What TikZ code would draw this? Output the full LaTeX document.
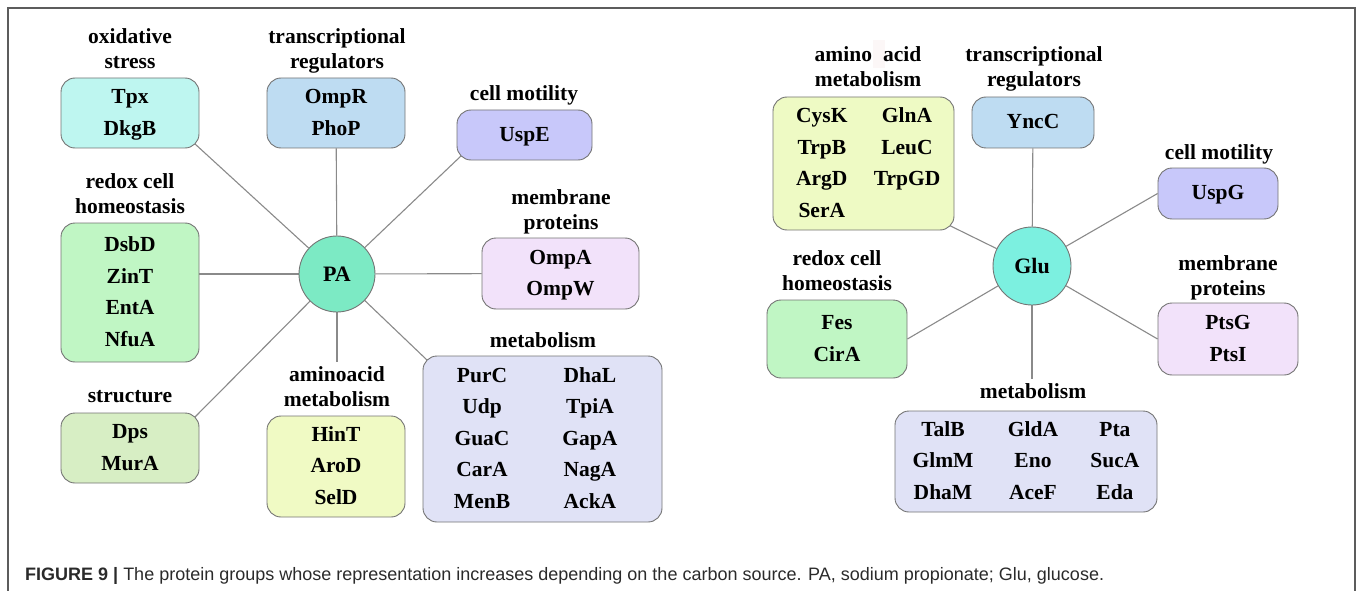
\documentclass[tikz,border=0pt]{standalone}
\usepackage{fontspec}
\setmainfont{Liberation Serif}
\newfontfamily\capfont{Liberation Sans}
\usetikzlibrary{calc}

\pgfdeclarelayer{links}
\pgfsetlayers{links,main}

\definecolor{framegray}{HTML}{5C5C5C}
\definecolor{boxline}{HTML}{747474}
\definecolor{linkgray}{HTML}{8A8A8A}
\definecolor{oxfill}{HTML}{BEF6F0}
\definecolor{trfill}{HTML}{BEDCF2}
\definecolor{cmfill}{HTML}{C8C8FA}
\definecolor{mpfill}{HTML}{F2E2FA}
\definecolor{mefill}{HTML}{E0E2F6}
\definecolor{rxfill}{HTML}{C0F6C4}
\definecolor{stfill}{HTML}{D7EEC4}
\definecolor{aafill}{HTML}{F0FAC4}
\definecolor{aafillb}{HTML}{EEFAC4}
\definecolor{pafill}{HTML}{7CEAC4}
\definecolor{glufill}{HTML}{7CF0E0}
\definecolor{patch}{HTML}{FCF7F7}
\definecolor{captext}{HTML}{2A2A2A}

\newcommand\titlefont{\fontsize{21.5}{25}\selectfont\bfseries}
\newcommand\boxfont{\fontsize{21.5}{31.5}\selectfont\bfseries}
\newcommand\hubfont{\fontsize{22}{26}\selectfont\bfseries}
\newcommand\stack[1]{\begin{tabular}{@{}c@{}}#1\end{tabular}}

\begin{document}
\begin{tikzpicture}[x=1pt,y=-1pt,
  title/.style={font=\titlefont, inner sep=0pt},
  box/.style={draw=boxline, line width=0.9pt, rounded corners=14pt,
    inner sep=0pt, font=\boxfont},
  hub/.style={circle, draw=boxline, line width=0.9pt, inner sep=0pt,
    minimum size=76pt, font=\hubfont},
  link/.style={draw=linkgray, line width=1.1pt},
  frame/.style={draw=framegray, line width=1.5pt}]

\useasboundingbox (0,0) rectangle (1357,591);
\draw[frame] (8,591) -- (8,8) -- (1355,8) -- (1355,591);

% ---------- sodium propionate ----------
\node[hub, fill=pafill] (pa) at (337,274) {PA};

\node[title] (t-ox) at (130,51.5) {\stack{oxidative\\stress}};
\node[box, fill=oxfill, minimum width=138pt, minimum height=70pt] (tpx) at (130,113) {\stack{Tpx\\DkgB}};

\node[title] (t-tr) at (337,51) {\stack{transcriptional\\regulators}};
\node[box, fill=trfill, minimum width=138pt, minimum height=70pt] (ompr) at (336,113) {\stack{OmpR\\PhoP}};

\node[title] (t-cm) at (524,96) {\stack{cell motility}};
\node[box, fill=cmfill, minimum width=135pt, minimum height=50pt] (uspe) at (524.5,135) {\stack{UspE}};

\node[title] (t-mp) at (561,211.5) {\stack{membrane\\proteins}};
\node[box, fill=mpfill, minimum width=157pt, minimum height=71pt] (ompa) at (560.5,273.5) {\stack{OmpA\\OmpW}};

\node[title] (t-me) at (543,342) {\stack{metabolism}};
\node[box, fill=mefill, minimum width=239pt, minimum height=166pt] (meta) at (542.5,439)
  {\begin{tabular}{@{}c@{\hspace{52.4pt}}c@{\hspace{13.6pt}}}
   PurC & DhaL\\ Udp & TpiA\\ GuaC & GapA\\ CarA & NagA\\ MenB & AckA
   \end{tabular}};

\node[title] (t-rx) at (130,196) {\stack{redox cell\\homeostasis}};
\node[box, fill=rxfill, minimum width=138pt, minimum height=139pt] (dsbd) at (130,292.5) {\stack{DsbD\\ZinT\\EntA\\NfuA}};

\node[title] (t-st) at (130,397) {\stack{structure}};
\node[box, fill=stfill, minimum width=138pt, minimum height=70pt] (dps) at (130,448) {\stack{Dps\\MurA}};

\node[title] (t-aa) at (337,388.5) {\stack{aminoacid\\metabolism}};
\node[box, fill=aafill, minimum width=138pt, minimum height=101pt] (hint) at (336,466.5) {\stack{HinT\\AroD\\SelD}};

\coordinate (tpx-in)  at ($(tpx.south east)+(-5,-5)$);
\coordinate (uspe-in) at ($(uspe.south west)+(5,-5)$);
\coordinate (meta-in) at ($(meta.north west)+(5,5)$);
\coordinate (dps-in)  at ($(dps.north east)+(-5,5)$);
\coordinate (pa-end)  at (337,362);

\begin{pgfonlayer}{links}
  \draw[link] (pa) -- (tpx-in);
  \draw[link] (pa) -- (ompr);
  \draw[link] (pa) -- (uspe-in);
  \draw[link] (pa) -- (ompa);
  \draw[link] (pa) -- (meta-in);
  \draw[link] (pa) -- (pa-end);
  \draw[link] (pa) -- (dps-in);
  \draw[link] (pa) -- (pa -| dsbd.east);
\end{pgfonlayer}

% ---------- glucose ----------
\node[hub, fill=glufill, minimum size=78pt] (glu) at (1032,266) {Glu};

\fill[patch] (873,40) rectangle (885,68);
\node[title] (t-aa2) at (868,69.5) {\stack{amino\hspace{11pt}acid\\metabolism}};
\node[box, fill=aafillb, minimum width=181pt, minimum height=133pt] (amino) at (863.5,163.5)
  {\begin{tabular}{@{\hspace{9.4pt}}c@{\hspace{26.3pt}}c@{}}
   CysK & GlnA\\ TrpB & LeuC\\ ArgD & TrpGD\\ SerA &
   \end{tabular}};

\node[title] (t-tr2) at (1034,69.5) {\stack{transcriptional\\regulators}};
\node[box, fill=trfill, minimum width=122pt, minimum height=51pt] (yncc) at (1033,122.5) {\stack{YncC}};

\node[title] (t-cm2) at (1219,154) {\stack{cell motility}};
\node[box, fill=cmfill, minimum width=120pt, minimum height=51pt] (uspg) at (1218,193.5) {\stack{UspG}};

\node[title] (t-rx2) at (837,272.5) {\stack{redox cell\\homeostasis}};
\node[box, fill=rxfill, minimum width=140pt, minimum height=78pt] (fes) at (837,339) {\stack{Fes\\CirA}};

\node[title] (t-mp2) at (1228,278) {\stack{membrane\\proteins}};
\node[box, fill=mpfill, minimum width=140pt, minimum height=72pt] (ptsg) at (1228,339) {\stack{PtsG\\PtsI}};

\node[title] (t-me2) at (1033,393) {\stack{metabolism}};
\node[box, fill=mefill, minimum width=262pt, minimum height=101pt] (meta2) at (1026,461.5)
  {\begin{tabular}{@{}c@{\hspace{34.45pt}}c@{\hspace{32.4pt}}c@{}}
   TalB & GldA & Pta\\ GlmM & Eno & SucA\\ DhaM & AceF & Eda
   \end{tabular}};

\coordinate (amino-in) at ($(amino.south east)+(-5,-5)$);
\coordinate (glu-end)  at (1032,379);

\begin{pgfonlayer}{links}
  \draw[link] (glu) -- (amino-in);
  \draw[link] (glu) -- (yncc);
  \draw[link] (glu) -- (uspg.west);
  \draw[link] (glu) -- (ptsg.west);
  \draw[link] (glu) -- (fes.east);
  \draw[link] (glu) -- (glu-end);
\end{pgfonlayer}

% ---------- caption ----------
\node[anchor=base west, inner sep=0pt, text=captext, font=\capfont\fontsize{18}{22}\selectfont] (caption) at (25,580)
  {\textbf{FIGURE 9 |} The protein groups whose representation increases depending on the carbon source. PA, sodium propionate; Glu, glucose.};
\end{tikzpicture}
\end{document}
